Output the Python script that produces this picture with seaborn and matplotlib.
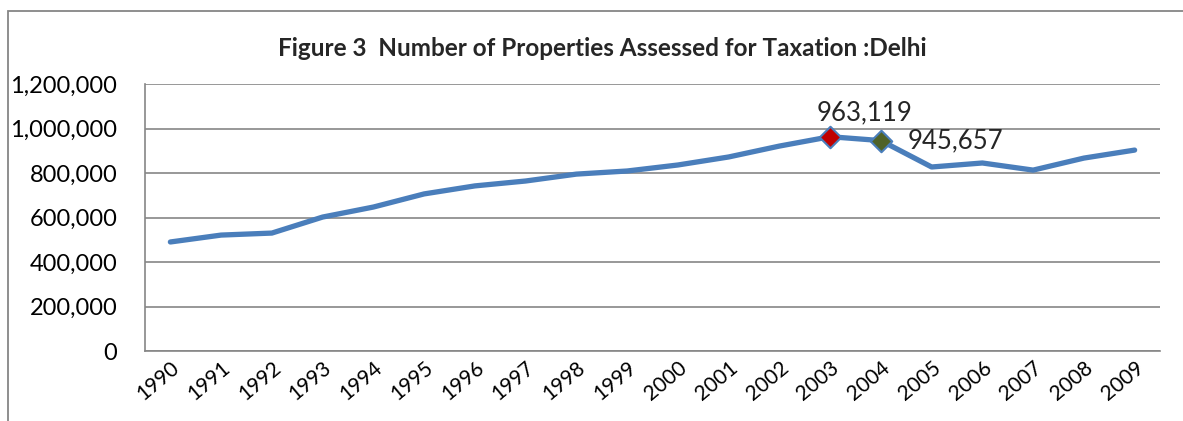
import matplotlib
matplotlib.use("Agg")
import matplotlib.pyplot as plt
import seaborn as sns
import pandas as pd
from matplotlib.patches import Rectangle
from matplotlib.ticker import FuncFormatter, FixedLocator

years = [str(y) for y in range(1990, 2010)]
properties = [490000, 521000, 530000, 602000, 647000, 706000, 742000, 764000,
              795000, 809000, 836000, 872000, 921000, 963119, 945657, 827000,
              845000, 813000, 867000, 903000]
highlight_years = ["2003", "2004"]
highlight_values = [963119, 945657]
highlight_colors = ["#c00000", "#4f6228"]
title = "Figure 3  Number of Properties Assessed for Taxation :Delhi"
yticks = [0, 200000, 400000, 600000, 800000, 1000000, 1200000]

sns.set_theme(style="white")
plt.rcParams['font.family'] = ['Lato', 'DejaVu Sans']

df = pd.DataFrame({"pos": list(range(len(years))), "value": properties})

fig = plt.figure(figsize=(11.83, 4.21), dpi=100)
ax = fig.add_axes([145/1183, 1-351/421, (1160-145)/1183, (351-84)/421])

sns.lineplot(data=df, x="pos", y="value", ax=ax, color="#4a7ebb", linewidth=3.8,
             solid_capstyle="round", solid_joinstyle="round")

for yr, v, c in zip(highlight_years, highlight_values, highlight_colors):
    p = years.index(yr)
    hdf = pd.DataFrame({"pos": [p], "value": [v]})
    sns.scatterplot(data=hdf, x="pos", y="value", ax=ax, marker="D", s=120,
                    color=c, edgecolor="#4a7ebb", linewidth=1.5, zorder=5)

# data labels
p3 = years.index("2003")
p4 = years.index("2004")
ax.annotate(f"{highlight_values[0]:,}", (p3, highlight_values[0]), xytext=(-10, 8),
            textcoords="offset points", ha="left", va="bottom", fontsize=18.5)
ax.annotate(f"{highlight_values[1]:,}", (p4, highlight_values[1]), xytext=(19, 0),
            textcoords="offset points", ha="left", va="center", fontsize=18.5)

ax.set_xlim(-0.5, len(years) - 0.5)
ax.set_ylim(0, 1200000)
ax.set_yticks(yticks)
ax.yaxis.set_major_formatter(FuncFormatter(lambda v, _: f"{int(v):,}"))
ax.set_xticks(range(len(years)))
ax.set_xticklabels(years, rotation=40, ha="right", rotation_mode="anchor", fontsize=15)
ax.xaxis.set_minor_locator(FixedLocator([i - 0.5 for i in range(len(years) + 1)]))
ax.tick_params(axis="x", which="major", length=0, pad=5)
ax.tick_params(axis="x", which="minor", length=6, width=1.2, color="#868686", direction="out")
ax.tick_params(axis="y", which="major", length=6, width=1.2, color="#868686",
               direction="out", labelsize=17, pad=14)
ax.grid(axis="y", color="#868686", linewidth=1.2)
ax.set_axisbelow(True)
for s in ["top", "right"]:
    ax.spines[s].set_visible(False)
for s in ["left", "bottom"]:
    ax.spines[s].set_color("#868686")
    ax.spines[s].set_linewidth(1.2)
ax.set_xlabel("")
ax.set_ylabel("")
for lbl in ax.get_xticklabels() + ax.get_yticklabels():
    lbl.set_color("black")

fig.text(602/1183, 1-48/421, title, ha="center", va="center", fontsize=17.5,
         fontweight="bold")

# outer chart border (top and left visible)
fig.add_artist(Rectangle((8/1183, -0.1), 1.2, (1-11/421) + 0.1, transform=fig.transFigure,
                         fill=False, edgecolor="#868686", linewidth=1.3))

fig.savefig("out.png", dpi=100)
